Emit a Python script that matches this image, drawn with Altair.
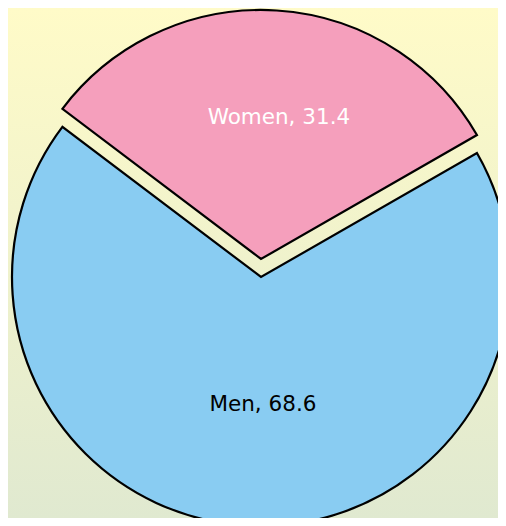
import altair as alt
import pandas as pd
import math

categories = ["Women", "Men"]
values = [31.4, 68.6]
slice_colors = ["#F59FBC", "#89CCF2"]
label_colors = ["white", "black"]

ends = []
acc = 0.0
for v in values:
    ends.append(acc + v)
    acc += v
starts = [e - v for e, v in zip(ends, values)]
df = pd.DataFrame({
    "category": categories,
    "value": values,
    "start": starts,
    "end": ends,
    "mid": [(s + e) / 2 for s, e in zip(starts, ends)],
})

W, H = 490, 510
CX, CY = 253, 269
R = 249
start_angle = math.radians(360 - 52.9)
theta_scale = alt.Scale(domain=[0, 100], range=[start_angle, start_angle + 2 * math.pi])
color_scale = alt.Scale(domain=categories, range=slice_colors)

bg = alt.Chart(pd.DataFrame({"a": [0]})).mark_rect(
    color=alt.Gradient(
        gradient="linear",
        stops=[alt.GradientStop(color="#FFFBC8", offset=0),
               alt.GradientStop(color="#E0E9D0", offset=1)],
        x1=0, x2=0, y1=0, y2=1,
    )
).encode(x=alt.value(0), x2=alt.value(W), y=alt.value(0), y2=alt.value(H))

base = alt.Chart(df)

def arc_layer(cat, dy):
    return base.transform_filter(alt.datum.category == cat).mark_arc(
        radius=R, stroke="black", strokeWidth=2.2
    ).encode(
        theta=alt.Theta("start:Q", scale=theta_scale),
        theta2="end:Q",
        color=alt.Color("category:N", scale=color_scale, legend=None),
        x=alt.value(CX), y=alt.value(CY + dy),
    )

def text_layer(cat, dy, rad, col, dx):
    return base.transform_filter(alt.datum.category == cat).transform_calculate(
        label=alt.datum.category + ", " + alt.expr.format(alt.datum.value, ".1f")
    ).mark_text(
        radius=rad, font="DejaVu Sans", fontSize=21.5, align="center",
        baseline="middle", color=col, dx=dx
    ).encode(
        theta=alt.Theta("mid:Q", scale=theta_scale),
        text="label:N",
        x=alt.value(CX), y=alt.value(CY + dy),
    )

chart = alt.layer(
    bg,
    arc_layer("Men", 0),
    arc_layer("Women", -18),
    text_layer("Women", -18, 141, label_colors[0], 9),
    text_layer("Men", 0, 128, label_colors[1], 10),
).properties(
    width=W, height=H, padding=0,
    autosize=alt.AutoSizeParams(type="none"),
).configure_view(stroke=None).configure(background="#FFFBC8")

chart.save("out.html", embed_options={"renderer": "svg", "actions": False})
